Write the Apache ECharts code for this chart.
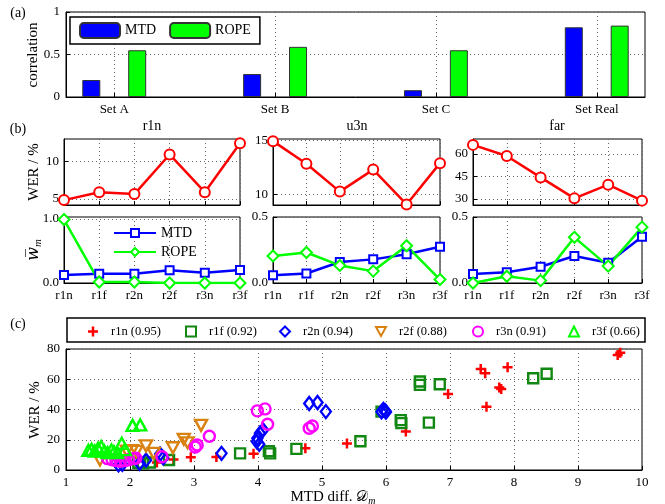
<!DOCTYPE html>
<html><head><meta charset="utf-8">
<script src="https://cdn.jsdelivr.net/npm/echarts@6/dist/echarts.min.js"></script>
<style>html,body{margin:0;padding:0;background:#fff}#c{width:665px;height:504px}</style>
</head><body><div id="c"></div>
<script>
// ---- data ----
const setNames = ['Set A', 'Set B', 'Set C', 'Set Real'];
const setPos = [1, 2, 3, 4];
const corrMTD = [0.20, 0.27, 0.08, 0.82];
const corrROPE = [0.55, 0.59, 0.55, 0.84];

const conds = ['r1n', 'r1f', 'r2n', 'r2f', 'r3n', 'r3f'];
const colTitles = ['r1n', 'u3n', 'far'];
const werR1n = [4.85, 5.9, 5.65, 10.9, 5.9, 12.4];
const werU3n = [14.95, 12.85, 10.25, 12.3, 9.05, 12.9];
const werFar = [65.9, 58.5, 44.3, 30.4, 39.5, 28.9];
const wMtdR1n = [0.123, 0.144, 0.144, 0.198, 0.16, 0.203];
const wRopeR1n = [0.99, 0.016, 0.016, 0.0, 0.0, 0.0];
const wMtdU3n = [0.059, 0.072, 0.159, 0.179, 0.218, 0.274];
const wRopeU3n = [0.205, 0.231, 0.133, 0.09, 0.282, 0.026];
const wMtdFar = [0.069, 0.082, 0.123, 0.205, 0.154, 0.351];
const wRopeFar = [0.0, 0.051, 0.018, 0.346, 0.128, 0.423];
const werTicks = [[5, 10], [10, 15], [30, 45, 60]];
const wTicks = [[0, 1], [0, 0.5], [0, 0.5]];

const scNames = ['r1n (0.95)', 'r1f (0.92)', 'r2n (0.94)', 'r2f (0.88)', 'r3n (0.91)', 'r3f (0.66)'];
const scR1n = [[2.42,5],[2.68,7],[2.95,8.5],[3.35,8.6],[3.93,10.8],[4.74,14.3],[5.39,17.5],[6.31,25.4],[6.97,50.3],[7.48,66.7],[7.55,64],[7.90,68],[7.77,54.5],[7.80,53.5],[7.57,41.9],[9.62,76],[9.66,77.5]];
const scR1f = [[2.13,4.8],[2.2,4.5],[2.31,5],[2.61,6.6],[3.72,11],[4.17,12.5],[4.19,11],[4.60,14],[5.6,19],[5.93,38.6],[6.23,33],[6.24,31],[6.53,58.5],[6.53,56.3],[6.67,31.3],[6.84,56.7],[8.30,60.7],[8.51,63.6]];
const scR2n = [[1.82,3.5],[1.88,3.8],[2.15,4.5],[2.25,6.5],[2.47,10.5],[2.52,8],[3.43,11],[3.98,18.8],[3.99,21],[4.02,17],[4.03,24.3],[4.08,26.5],[4.80,44],[4.93,44.6],[5.06,38.6],[5.93,38.5],[5.96,40],[5.99,39],[6.0,38.3]];
const scR2f = [[1.53,6.6],[1.95,12.5],[2.03,12.8],[2.1,12.3],[2.25,15.9],[2.37,11],[2.67,14.7],[2.84,20.3],[2.90,18],[3.11,29.5]];
const scR3n = [[1.65,7.5],[1.72,6.8],[1.78,6.2],[1.85,5.7],[1.92,6.3],[1.98,6.8],[2.05,7.5],[2.09,7.8],[2.50,8.8],[3.02,15.2],[3.05,16.5],[3.24,22.3],[3.99,39.1],[4.11,40.4],[4.15,30.2],[4.80,27.6],[4.85,29.1]];
const scR3f = [[1.35,13],[1.40,13.7],[1.45,12.5],[1.50,14.3],[1.55,15.5],[1.60,12.5],[1.65,11.5],[1.71,13.2],[1.75,12],[1.80,11.5],[1.87,17.7],[1.92,13.5],[2.04,29.5],[2.16,29.8]];

// ---- styles ----
const FONT = 'Liberation Serif';
const gridLine = { show: true, lineStyle: { color: '#666', type: [1, 3], width: 1 } };
const axLine = { show: true, onZero: false, lineStyle: { color: '#000', width: 1 } };
const axTick = { show: true, inside: true, length: 4, lineStyle: { color: '#000' } };
const lbl = (o) => Object.assign({ color: '#000', fontFamily: FONT, fontSize: 13 }, o || {});
const gridBox = { show: true, borderColor: '#000', borderWidth: 1, backgroundColor: 'transparent' };

const grids = [], xAxes = [], yAxes = [], series = [];

// panel (a)
grids.push(Object.assign({ left: 66, right: 20, top: 12, height: 85 }, gridBox));
xAxes.push({ type: 'value', gridIndex: 0, min: 0.7, max: 4.3,
  axisLine: axLine, axisTick: Object.assign({}, axTick, { customValues: setPos }),
  axisLabel: lbl({ customValues: setPos, margin: 6, formatter: v => setNames[Math.round(v) - 1] }),
  splitLine: gridLine });
yAxes.push({ type: 'value', gridIndex: 0, min: 0, max: 1, interval: 0.5,
  axisLine: axLine, axisTick: axTick, axisLabel: lbl({ margin: 6 }), splitLine: gridLine });
series.push({ type: 'bar', name: 'MTD', xAxisIndex: 0, yAxisIndex: 0, barWidth: 18, barGap: '155%',
  data: setPos.map((p, i) => [p, corrMTD[i]]),
  itemStyle: { color: '#0000ff', borderColor: '#333', borderWidth: 1 } });
series.push({ type: 'bar', name: 'ROPE', xAxisIndex: 0, yAxisIndex: 0, barWidth: 18, barGap: '155%',
  data: setPos.map((p, i) => [p, corrROPE[i]]),
  itemStyle: { color: '#00ff00', borderColor: '#333', borderWidth: 1 } });

// panel (b)
const colLeft = [64, 273, 473], colWidth = [176, 167, 169];
const werData = [werR1n, werU3n, werFar];
const werRange = [[4.2, 12.95], [9.0, 15.15], [26, 69.8]];
const wMtd = [wMtdR1n, wMtdU3n, wMtdFar];
const wRope = [wRopeR1n, wRopeU3n, wRopeFar];
const wMax = [1.03, 0.5, 0.5];
for (let c = 0; c < 3; c++) {
  grids.push(Object.assign({ left: colLeft[c], width: colWidth[c], top: 139, height: 66 }, gridBox));
  let gi = grids.length - 1;
  xAxes.push({ type: 'category', gridIndex: gi, data: conds, boundaryGap: false,
    axisLine: axLine, axisTick: axTick, axisLabel: { show: false }, splitLine: gridLine });
  yAxes.push({ type: 'value', gridIndex: gi, min: werRange[c][0], max: werRange[c][1],
    axisLine: axLine, axisTick: Object.assign({}, axTick, { customValues: werTicks[c] }),
    axisLabel: lbl({ customValues: werTicks[c], margin: 5 }), splitLine: gridLine });
  series.push({ type: 'line', name: 'WER', xAxisIndex: gi, yAxisIndex: gi, data: werData[c],
    color: '#ff0000', lineStyle: { width: 2.5, color: '#ff0000' }, symbol: 'emptyCircle', symbolSize: 10,
    itemStyle: { color: '#ff0000', borderWidth: 2.2 } });
}
for (let c = 0; c < 3; c++) {
  grids.push(Object.assign({ left: colLeft[c], width: colWidth[c], top: 217, height: 66 }, gridBox));
  let gi = grids.length - 1;
  xAxes.push({ type: 'category', gridIndex: gi, data: conds, boundaryGap: false,
    axisLine: axLine, axisTick: axTick, axisLabel: lbl({ margin: 6, interval: 0 }), splitLine: gridLine });
  yAxes.push({ type: 'value', gridIndex: gi, min: 0, max: wMax[c],
    axisLine: axLine, axisTick: Object.assign({}, axTick, { customValues: wTicks[c] }),
    axisLabel: lbl({ customValues: wTicks[c], margin: 5, formatter: v => v.toFixed(1) }), splitLine: gridLine });
  series.push({ type: 'line', name: 'MTD ', xAxisIndex: gi, yAxisIndex: gi, data: wMtd[c],
    color: '#0000ff', lineStyle: { width: 2.5, color: '#0000ff' }, symbol: 'emptyRect', symbolSize: 8,
    itemStyle: { color: '#0000ff', borderWidth: 2 } });
  series.push({ type: 'line', name: 'ROPE ', xAxisIndex: gi, yAxisIndex: gi, data: wRope[c],
    color: '#00ff00', lineStyle: { width: 2.5, color: '#00ff00' }, symbol: 'emptyDiamond', symbolSize: 11,
    itemStyle: { color: '#00ff00', borderWidth: 2 } });
}

// panel (c)
grids.push(Object.assign({ left: 66, right: 23, top: 349, height: 121 }, gridBox));
const gc = grids.length - 1;
xAxes.push({ type: 'value', gridIndex: gc, min: 1, max: 10, interval: 1,
  axisLine: axLine, axisTick: axTick, axisLabel: lbl({ margin: 6 }), splitLine: gridLine });
yAxes.push({ type: 'value', gridIndex: gc, min: 0, max: 80, interval: 20,
  axisLine: axLine, axisTick: axTick, axisLabel: lbl({ margin: 6 }), splitLine: gridLine });
const plusPath = 'path://M3,0H5V3H8V5H5V8H3V5H0V3H3Z';
const downTri = 'path://M0,0L10,0L5,9Z';
const scData = [scR1n, scR1f, scR2n, scR2f, scR3n, scR3f];
const scSym = [plusPath, 'rect', 'diamond', downTri, 'circle', 'triangle'];
const scSize = [[10, 10], [10, 10], [10, 13], [12, 11], [11, 11], [12, 11]];
const scCol = ['#ff0000', '#118811', '#0000ff', '#d98212', '#ff00ff', '#00ff00'];
for (let k = 0; k < 6; k++) {
  const filled = k === 0;
  series.push({ type: 'scatter', name: scNames[k], xAxisIndex: gc, yAxisIndex: gc, data: scData[k],
    symbol: scSym[k], symbolSize: scSize[k],
    itemStyle: filled ? { color: scCol[k], opacity: 1 } :
      { color: 'rgba(255,255,255,0)', borderColor: scCol[k], borderWidth: 2.4, opacity: 1 } });
}

// legends
const legends = [];
legends.push({ data: ['MTD', 'ROPE'], left: 70, top: 17, orient: 'horizontal', itemWidth: 40, itemHeight: 15,
  itemGap: 13, padding: [5, 9, 5, 9], borderColor: '#000', borderWidth: 1.5, backgroundColor: '#fff',
  selectedMode: false, textStyle: { color: '#000', fontFamily: FONT, fontSize: 14 } });
legends.push({ data: ['MTD ', 'ROPE '], left: 113, top: 226, orient: 'vertical', itemWidth: 42, itemHeight: 10,
  itemGap: 5, padding: 0, selectedMode: false, formatter: n => n.trim(),
  textStyle: { color: '#000', fontFamily: FONT, fontSize: 14 } });
const legIconX = [93, 190, 284, 380, 477, 573];
for (let k = 0; k < 6; k++) {
  legends.push({ data: [{ name: scNames[k], icon: scSym[k] }], left: legIconX[k] - 5, top: 325, itemWidth: 10, itemHeight: 10,
    padding: 0, selectedMode: false,
    textStyle: { color: '#000', fontFamily: FONT, fontSize: 12.5, padding: [0, 0, 0, 8] } });
}

const txt = (x, y, text, size, rot, extra) => Object.assign({
  type: 'text', x: x, y: y, rotation: rot || 0, z: 100,
  style: { text: text, fill: '#000', font: (size || 14) + 'px "' + FONT + '"', textAlign: 'center', textVerticalAlign: 'middle' }
}, extra || {});

const graphics = [
  txt(18, 13, '(a)', 14),
  txt(33, 55, 'correlation', 15, Math.PI / 2),
  txt(18, 129, '(b)', 14),
  txt(152, 126, colTitles[0], 14),
  txt(357, 126, colTitles[1], 14),
  txt(557, 126, colTitles[2], 14),
  txt(34, 172, 'WER / %', 15, Math.PI / 2),
  { type: 'text', x: 34, y: 250, rotation: Math.PI / 2, z: 100,
    style: { text: '{a|w\u0305}{b|m}', textAlign: 'center', textVerticalAlign: 'middle',
      rich: { a: { fontFamily: 'DejaVu Serif', fontStyle: 'italic', fontSize: 16, fill: '#000' },
              b: { fontFamily: FONT, fontStyle: 'italic', fontSize: 11, fill: '#000', padding: [9, 0, 0, 0] } } } },
  txt(18, 324, '(c)', 14),
  { type: 'rect', shape: { x: 67, y: 318, width: 578, height: 24 }, z: 0,
    style: { fill: '#fff', stroke: '#000', lineWidth: 1.5 } },
  txt(35, 410, 'WER / %', 15, Math.PI / 2),
  { type: 'text', x: 333, y: 497, z: 100,
    style: { text: '{a|MTD diff. }{c|\uD835\uDC9F}{b|m}', textAlign: 'center', textVerticalAlign: 'middle',
      rich: { a: { fontFamily: FONT, fontSize: 15, fill: '#000' },
              c: { fontFamily: 'DejaVu Serif', fontSize: 15, fill: '#000' },
              b: { fontFamily: FONT, fontStyle: 'italic', fontSize: 10, fill: '#000', padding: [8, 0, 0, 0] } } } }
];

const chart = echarts.init(document.getElementById('c'), null, { renderer: 'canvas' });
chart.setOption({
  animation: false,
  backgroundColor: '#fff',
  grid: grids, xAxis: xAxes, yAxis: yAxes, series: series,
  legend: legends, graphic: graphics
});
</script></body></html>
